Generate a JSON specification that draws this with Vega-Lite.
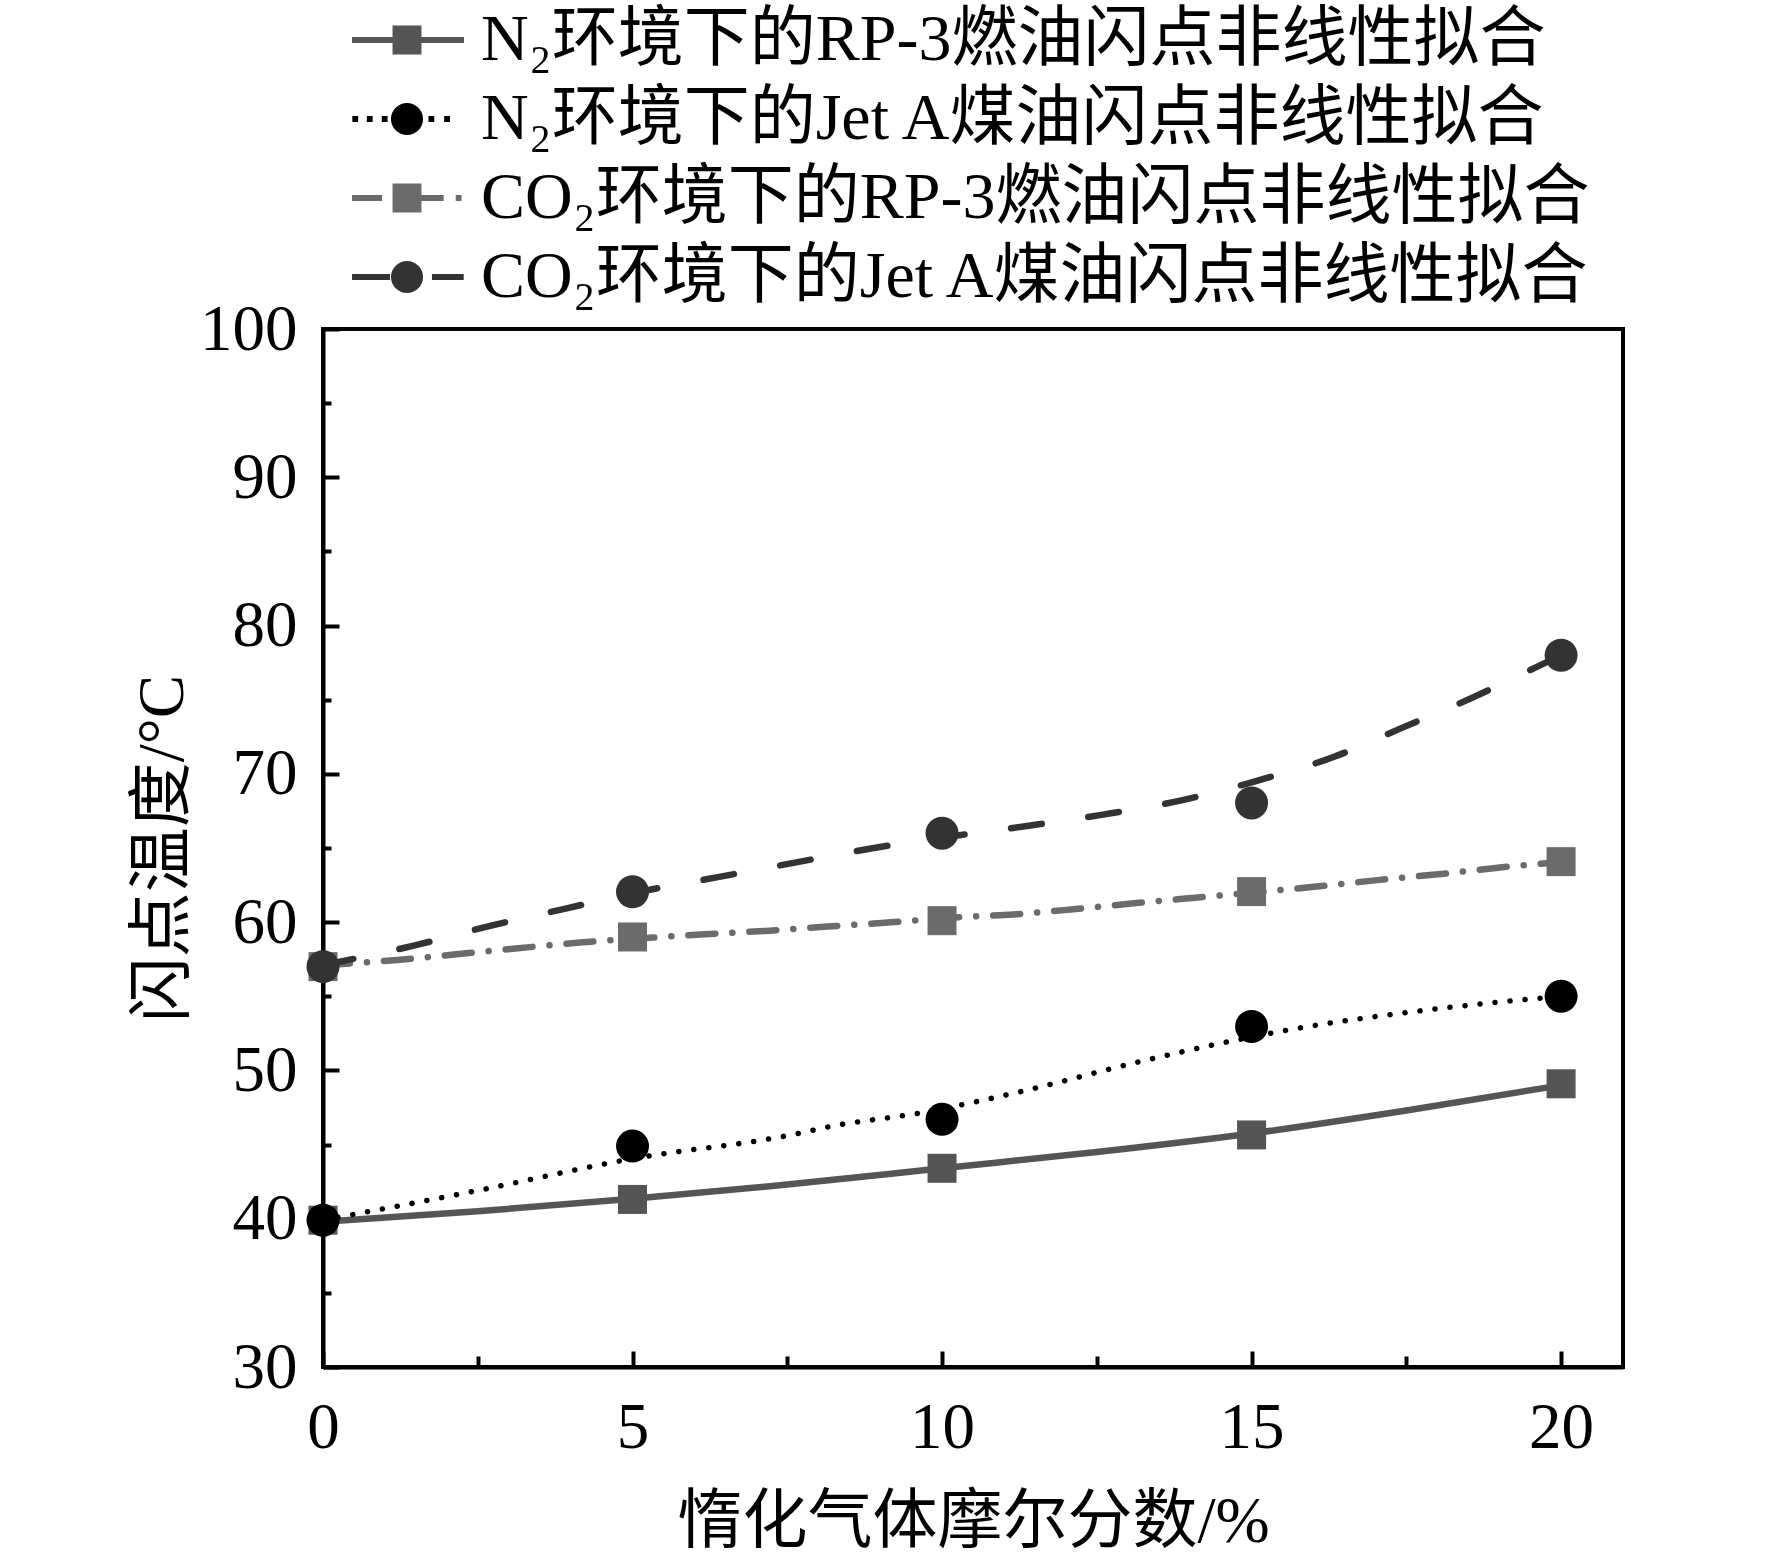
{
  "$schema": "https://vega.github.io/schema/vega-lite/v6.json",
  "width": 1300,
  "height": 1038,
  "autosize": {"type": "none"},
  "padding": {"left": 323, "top": 329, "right": 149, "bottom": 200},
  "background": "white",
  "config": {
    "font": "Liberation Serif, Noto Sans CJK SC",
    "view": {"stroke": "#000", "strokeWidth": 4},
    "axis": {
      "domainColor": "#000", "domainWidth": 4, "tickColor": "#000", "tickWidth": 4,
      "labelFont": "Liberation Serif, Noto Sans CJK SC", "labelFontSize": 65, "labelColor": "#000",
      "titleFont": "Liberation Serif, Noto Sans CJK SC", "titleFontSize": 65, "titleColor": "#000",
      "titleFontWeight": "normal", "grid": false
    }
  },
  "datasets": {
    "fit": [
      {"series": "N₂环境下的RP-3燃油闪点非线性拟合", "x": 0, "y": 39.8},
      {"series": "N₂环境下的RP-3燃油闪点非线性拟合", "x": 2.5, "y": 40.5},
      {"series": "N₂环境下的RP-3燃油闪点非线性拟合", "x": 5, "y": 41.35},
      {"series": "N₂环境下的RP-3燃油闪点非线性拟合", "x": 7.5, "y": 42.3},
      {"series": "N₂环境下的RP-3燃油闪点非线性拟合", "x": 10, "y": 43.4},
      {"series": "N₂环境下的RP-3燃油闪点非线性拟合", "x": 12.5, "y": 44.5},
      {"series": "N₂环境下的RP-3燃油闪点非线性拟合", "x": 15, "y": 45.75},
      {"series": "N₂环境下的RP-3燃油闪点非线性拟合", "x": 17.5, "y": 47.3},
      {"series": "N₂环境下的RP-3燃油闪点非线性拟合", "x": 20, "y": 49.0},
      {"series": "N₂环境下的Jet A煤油闪点非线性拟合", "x": 0, "y": 39.9},
      {"series": "N₂环境下的Jet A煤油闪点非线性拟合", "x": 2.5, "y": 41.9},
      {"series": "N₂环境下的Jet A煤油闪点非线性拟合", "x": 5, "y": 44.05},
      {"series": "N₂环境下的Jet A煤油闪点非线性拟合", "x": 7.5, "y": 45.6},
      {"series": "N₂环境下的Jet A煤油闪点非线性拟合", "x": 8.3, "y": 46.3},
      {"series": "N₂环境下的Jet A煤油闪点非线性拟合", "x": 9.6, "y": 47.1},
      {"series": "N₂环境下的Jet A煤油闪点非线性拟合", "x": 11.3, "y": 48.6},
      {"series": "N₂环境下的Jet A煤油闪点非线性拟合", "x": 13.2, "y": 50.6},
      {"series": "N₂环境下的Jet A煤油闪点非线性拟合", "x": 14.7, "y": 52.0},
      {"series": "N₂环境下的Jet A煤油闪点非线性拟合", "x": 15.9, "y": 52.95},
      {"series": "N₂环境下的Jet A煤油闪点非线性拟合", "x": 17.4, "y": 53.85},
      {"series": "N₂环境下的Jet A煤油闪点非线性拟合", "x": 19.1, "y": 54.65},
      {"series": "N₂环境下的Jet A煤油闪点非线性拟合", "x": 20, "y": 55.0},
      {"series": "CO₂环境下的RP-3燃油闪点非线性拟合", "x": 0, "y": 57.1},
      {"series": "CO₂环境下的RP-3燃油闪点非线性拟合", "x": 1.2, "y": 57.45},
      {"series": "CO₂环境下的RP-3燃油闪点非线性拟合", "x": 2.15, "y": 57.83},
      {"series": "CO₂环境下的RP-3燃油闪点非线性拟合", "x": 3.15, "y": 58.24},
      {"series": "CO₂环境下的RP-3燃油闪点非线性拟合", "x": 4.15, "y": 58.62},
      {"series": "CO₂环境下的RP-3燃油闪点非线性拟合", "x": 5.33, "y": 58.96},
      {"series": "CO₂环境下的RP-3燃油闪点非线性拟合", "x": 6.16, "y": 59.18},
      {"series": "CO₂环境下的RP-3燃油闪点非线性拟合", "x": 7.15, "y": 59.41},
      {"series": "CO₂环境下的RP-3燃油闪点非线性拟合", "x": 8.15, "y": 59.7},
      {"series": "CO₂环境下的RP-3燃油闪点非线性拟合", "x": 9.12, "y": 59.97},
      {"series": "CO₂环境下的RP-3燃油闪点非线性拟合", "x": 10.14, "y": 60.3},
      {"series": "CO₂环境下的RP-3燃油闪点非线性拟合", "x": 11.15, "y": 60.52},
      {"series": "CO₂环境下的RP-3燃油闪点非线性拟合", "x": 12.12, "y": 60.87},
      {"series": "CO₂环境下的RP-3燃油闪点非线性拟合", "x": 13.1, "y": 61.27},
      {"series": "CO₂环境下的RP-3燃油闪点非线性拟合", "x": 14.09, "y": 61.65},
      {"series": "CO₂环境下的RP-3燃油闪点非线性拟合", "x": 16.05, "y": 62.4},
      {"series": "CO₂环境下的RP-3燃油闪点非线性拟合", "x": 17.07, "y": 62.85},
      {"series": "CO₂环境下的RP-3燃油闪点非线性拟合", "x": 18.06, "y": 63.25},
      {"series": "CO₂环境下的RP-3燃油闪点非线性拟合", "x": 19.05, "y": 63.7},
      {"series": "CO₂环境下的RP-3燃油闪点非线性拟合", "x": 20, "y": 64.05},
      {"series": "CO₂环境下的Jet A煤油闪点非线性拟合", "x": 0, "y": 57.1},
      {"series": "CO₂环境下的Jet A煤油闪点非线性拟合", "x": 1.5, "y": 58.45},
      {"series": "CO₂环境下的Jet A煤油闪点非线性拟合", "x": 2.7, "y": 59.75},
      {"series": "CO₂环境下的Jet A煤油闪点非线性拟合", "x": 3.9, "y": 60.9},
      {"series": "CO₂环境下的Jet A煤油闪点非线性拟合", "x": 5.3, "y": 62.2},
      {"series": "CO₂环境下的Jet A煤油闪点非线性拟合", "x": 6.4, "y": 63.05},
      {"series": "CO₂环境下的Jet A煤油闪点非线性拟合", "x": 7.6, "y": 64.0},
      {"series": "CO₂环境下的Jet A煤油闪点非线性拟合", "x": 8.9, "y": 65.0},
      {"series": "CO₂环境下的Jet A煤油闪点非线性拟合", "x": 10, "y": 65.7},
      {"series": "CO₂环境下的Jet A煤油闪点非线性拟合", "x": 11.4, "y": 66.5},
      {"series": "CO₂环境下的Jet A煤油闪点非线性拟合", "x": 12.6, "y": 67.25},
      {"series": "CO₂环境下的Jet A煤油闪点非线性拟合", "x": 13.85, "y": 68.2},
      {"series": "CO₂环境下的Jet A煤油闪点非线性拟合", "x": 15.1, "y": 69.55},
      {"series": "CO₂环境下的Jet A煤油闪点非线性拟合", "x": 16.3, "y": 71.1},
      {"series": "CO₂环境下的Jet A煤油闪点非线性拟合", "x": 17.4, "y": 73.05},
      {"series": "CO₂环境下的Jet A煤油闪点非线性拟合", "x": 18.6, "y": 75.2},
      {"series": "CO₂环境下的Jet A煤油闪点非线性拟合", "x": 19.6, "y": 77.2},
      {"series": "CO₂环境下的Jet A煤油闪点非线性拟合", "x": 20, "y": 78.0}
    ],
    "pts": [
      {"series": "N₂环境下的RP-3燃油闪点非线性拟合", "x": 0, "y": 39.9},
      {"series": "N₂环境下的RP-3燃油闪点非线性拟合", "x": 5, "y": 41.3},
      {"series": "N₂环境下的RP-3燃油闪点非线性拟合", "x": 10, "y": 43.4},
      {"series": "N₂环境下的RP-3燃油闪点非线性拟合", "x": 15, "y": 45.65},
      {"series": "N₂环境下的RP-3燃油闪点非线性拟合", "x": 20, "y": 49.1},
      {"series": "N₂环境下的Jet A煤油闪点非线性拟合", "x": 0, "y": 39.9},
      {"series": "N₂环境下的Jet A煤油闪点非线性拟合", "x": 5, "y": 44.9},
      {"series": "N₂环境下的Jet A煤油闪点非线性拟合", "x": 10, "y": 46.7},
      {"series": "N₂环境下的Jet A煤油闪点非线性拟合", "x": 15, "y": 52.96},
      {"series": "N₂环境下的Jet A煤油闪点非线性拟合", "x": 20, "y": 55.0},
      {"series": "CO₂环境下的RP-3燃油闪点非线性拟合", "x": 0, "y": 57.0},
      {"series": "CO₂环境下的RP-3燃油闪点非线性拟合", "x": 5, "y": 59.0},
      {"series": "CO₂环境下的RP-3燃油闪点非线性拟合", "x": 10, "y": 60.1},
      {"series": "CO₂环境下的RP-3燃油闪点非线性拟合", "x": 15, "y": 62.06},
      {"series": "CO₂环境下的RP-3燃油闪点非线性拟合", "x": 20, "y": 64.08},
      {"series": "CO₂环境下的Jet A煤油闪点非线性拟合", "x": 0, "y": 57.0},
      {"series": "CO₂环境下的Jet A煤油闪点非线性拟合", "x": 5, "y": 62.05},
      {"series": "CO₂环境下的Jet A煤油闪点非线性拟合", "x": 10, "y": 66.0},
      {"series": "CO₂环境下的Jet A煤油闪点非线性拟合", "x": 15, "y": 68.04},
      {"series": "CO₂环境下的Jet A煤油闪点非线性拟合", "x": 20, "y": 78.0}
    ]
  },
  "layer": [
    {
      "data": {"name": "fit"},
      "transform": [{"filter": {"field": "series", "equal": "N₂环境下的RP-3燃油闪点非线性拟合"}}],
      "mark": {"type": "line", "strokeCap": "round", "interpolate": "monotone", "strokeWidth": 6.5, "color": "#555555"},
      "encoding": {
        "x": {
          "field": "x", "type": "quantitative",
          "scale": {"domain": [0, 21], "nice": false, "zero": false},
          "axis": {"values": [0, 5, 10, 15, 20], "tickSize": -16, "labelPadding": 45, "labelFlush": false,
                   "title": "惰化气体摩尔分数/%", "titlePadding": 30}
        },
        "y": {
          "field": "y", "type": "quantitative",
          "scale": {"domain": [30, 100], "nice": false, "zero": false},
          "axis": {"values": [30, 40, 50, 60, 70, 80, 90, 100], "tickSize": -16, "labelPadding": 42, "labelFlush": false,
                   "title": "闪点温度/°C", "titlePadding": 3}
        }
      }
    },
    {
      "data": {"name": "fit"},
      "transform": [{"filter": {"field": "series", "equal": "N₂环境下的Jet A煤油闪点非线性拟合"}}],
      "mark": {"type": "line", "strokeCap": "round", "interpolate": "monotone", "strokeWidth": 5.5, "strokeDash": [0.1, 15], "color": "#000000"},
      "encoding": {
        "x": {"field": "x", "type": "quantitative", "axis": null},
        "y": {"field": "y", "type": "quantitative", "axis": null}
      }
    },
    {
      "data": {"name": "fit"},
      "transform": [{"filter": {"field": "series", "equal": "CO₂环境下的RP-3燃油闪点非线性拟合"}}],
      "mark": {"type": "line", "strokeCap": "round", "interpolate": "monotone", "strokeWidth": 6.5, "strokeDash": [27, 17, 0.1, 17], "color": "#6b6b6b"},
      "encoding": {
        "x": {"field": "x", "type": "quantitative", "axis": null},
        "y": {"field": "y", "type": "quantitative", "axis": null}
      }
    },
    {
      "data": {"name": "fit"},
      "transform": [{"filter": {"field": "series", "equal": "CO₂环境下的Jet A煤油闪点非线性拟合"}}],
      "mark": {"type": "line", "strokeCap": "round", "interpolate": "monotone", "strokeWidth": 6.5, "strokeDash": [31, 47], "color": "#333333"},
      "encoding": {
        "x": {"field": "x", "type": "quantitative", "axis": null},
        "y": {"field": "y", "type": "quantitative", "axis": null}
      }
    },
    {
      "data": {"name": "pts"},
      "transform": [{"filter": {"field": "series", "equal": "N₂环境下的RP-3燃油闪点非线性拟合"}}],
      "mark": {"type": "point", "shape": "square", "size": 841, "filled": true, "opacity": 1, "strokeWidth": 0, "color": "#555555"},
      "encoding": {
        "x": {
          "field": "x", "type": "quantitative",
          "axis": {"orient": "bottom", "values": [2.5, 7.5, 12.5, 17.5], "labels": false, "title": null, "domain": false, "tickSize": -11}
        },
        "y": {
          "field": "y", "type": "quantitative",
          "axis": {"orient": "left", "values": [35, 45, 55, 65, 75, 85, 95], "labels": false, "title": null, "domain": false, "tickSize": -8}
        }
      }
    },
    {
      "data": {"name": "pts"},
      "transform": [{"filter": {"field": "series", "equal": "CO₂环境下的RP-3燃油闪点非线性拟合"}}],
      "mark": {"type": "point", "shape": "square", "size": 841, "filled": true, "opacity": 1, "strokeWidth": 0, "color": "#6b6b6b"},
      "encoding": {
        "x": {"field": "x", "type": "quantitative", "axis": null},
        "y": {"field": "y", "type": "quantitative", "axis": null}
      }
    },
    {
      "data": {"name": "pts"},
      "transform": [{"filter": {"field": "series", "equal": "N₂环境下的Jet A煤油闪点非线性拟合"}}],
      "mark": {"type": "point", "shape": "circle", "size": 1089, "filled": true, "opacity": 1, "strokeWidth": 0, "color": "#000000"},
      "encoding": {
        "x": {"field": "x", "type": "quantitative", "axis": null},
        "y": {"field": "y", "type": "quantitative", "axis": null}
      }
    },
    {
      "data": {"name": "pts"},
      "transform": [{"filter": {"field": "series", "equal": "CO₂环境下的Jet A煤油闪点非线性拟合"}}],
      "mark": {"type": "point", "shape": "circle", "size": 1089, "filled": true, "opacity": 1, "strokeWidth": 0, "color": "#333333"},
      "encoding": {
        "x": {"field": "x", "type": "quantitative", "axis": null},
        "y": {"field": "y", "type": "quantitative", "axis": null}
      }
    },
    {
      "data": {"name": "pts"},
      "mark": {"type": "point", "size": 841, "filled": true, "opacity": 0, "strokeWidth": 6},
      "encoding": {
        "x": {"field": "x", "type": "quantitative", "axis": null},
        "y": {"field": "y", "type": "quantitative", "axis": null},
        "color": {
          "field": "series", "type": "nominal",
          "scale": {
            "domain": ["N₂环境下的RP-3燃油闪点非线性拟合", "N₂环境下的Jet A煤油闪点非线性拟合", "CO₂环境下的RP-3燃油闪点非线性拟合", "CO₂环境下的Jet A煤油闪点非线性拟合"],
            "range": ["#555555", "#000000", "#6b6b6b", "#333333"]
          },
          "legend": {
            "orient": "none", "legendX": 51, "legendY": -322, "title": null, "direction": "vertical",
            "padding": 0, "labelFont": "Liberation Serif, Noto Sans CJK SC", "labelFontSize": 66, "labelColor": "#000",
            "labelLimit": 2000, "labelOffset": 41, "rowPadding": 13, "symbolSize": 841, "symbolStrokeWidth": 6, "symbolOpacity": 1
          }
        },
        "stroke": {
          "field": "series", "type": "nominal",
          "scale": {
            "domain": ["N₂环境下的RP-3燃油闪点非线性拟合", "N₂环境下的Jet A煤油闪点非线性拟合", "CO₂环境下的RP-3燃油闪点非线性拟合", "CO₂环境下的Jet A煤油闪点非线性拟合"],
            "range": ["#555555", "#000000", "#6b6b6b", "#333333"]
          },
          "legend": {
            "orient": "none", "legendX": 51, "legendY": -322, "title": null, "direction": "vertical",
            "padding": 0, "labelFont": "Liberation Serif, Noto Sans CJK SC", "labelFontSize": 66, "labelColor": "#000",
            "labelLimit": 2000, "labelOffset": 41, "rowPadding": 13, "symbolSize": 841, "symbolStrokeWidth": 6, "symbolOpacity": 1
          }
        },
        "shape": {
          "field": "series", "type": "nominal",
          "scale": {
            "domain": ["N₂环境下的RP-3燃油闪点非线性拟合", "N₂环境下的Jet A煤油闪点非线性拟合", "CO₂环境下的RP-3燃油闪点非线性拟合", "CO₂环境下的Jet A煤油闪点非线性拟合"],
            "range": [
              "M-3.79,0H3.93M-0.79,-0.79H0.79V0.79H-0.79Z",
              "M-3.77,0H-3.37M-2.77,0H-2.37M-1.74,0H-1.34M1.48,0H1.88M2.56,0H2.96M0.9,0A0.9,0.9 0 1,1 -0.9,0A0.9,0.9 0 1,1 0.9,0Z",
              "M-3.79,0H-1.72M1,0H2.53M3.36,0H3.76M-0.79,-0.79H0.79V0.79H-0.79Z",
              "M-3.79,0H-1.17M1.72,0H3.91M0.9,0A0.9,0.9 0 1,1 -0.9,0A0.9,0.9 0 1,1 0.9,0Z"
            ]
          },
          "legend": {
            "orient": "none", "legendX": 51, "legendY": -322, "title": null, "direction": "vertical",
            "padding": 0, "labelFont": "Liberation Serif, Noto Sans CJK SC", "labelFontSize": 66, "labelColor": "#000",
            "labelLimit": 2000, "labelOffset": 41, "rowPadding": 13, "symbolSize": 841, "symbolStrokeWidth": 6, "symbolOpacity": 1
          }
        }
      }
    }
  ],
  "resolve": {"axis": {"x": "independent", "y": "independent"}}
}
